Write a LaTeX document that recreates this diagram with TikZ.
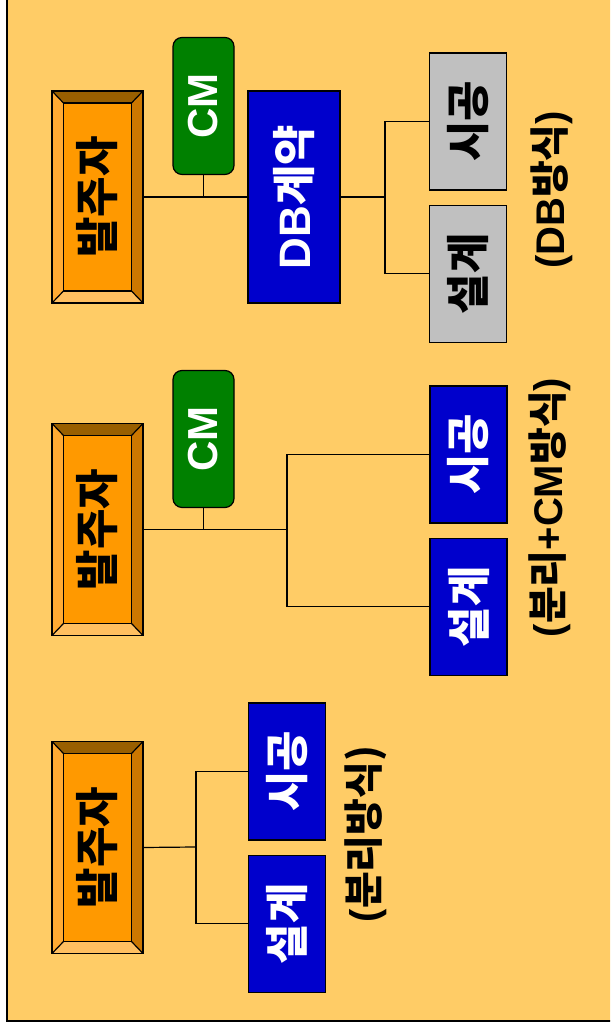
\documentclass[tikz,border=0pt]{standalone}
\usepackage{graphicx}
\usepackage{fontspec}
\setmainfont{Liberation Sans}
\newfontfamily\kr{Noto Sans CJK KR}
\usetikzlibrary{positioning}
\definecolor{bgsand}{HTML}{FFCC66}
\definecolor{ownfill}{HTML}{FF9900}
\definecolor{bevW}{HTML}{FFAA33}
\definecolor{bevN}{HTML}{995F00}
\definecolor{bevE}{HTML}{CC7700}
\definecolor{bevS}{HTML}{FFBF60}
\definecolor{cmgreen}{HTML}{008000}
\definecolor{partblue}{HTML}{0000CC}
\definecolor{partgray}{HTML}{C0C0C0}
\tikzset{
  %% owner boxes (bevelled)
  ownerbox/.style={
    rectangle, draw=black, line width=1.2pt, fill=ownfill,
    minimum width=91pt, minimum height=212pt, inner sep=0pt,
    font=\fontsize{44}{48}\selectfont\bfseries,
    path picture={
      \fill[bevN] (path picture bounding box.north west) -- (path picture bounding box.north east)
        -- ([xshift=-11.5pt,yshift=-12pt]path picture bounding box.north east)
        -- ([xshift=11.5pt,yshift=-12pt]path picture bounding box.north west) -- cycle;
      \fill[bevS] (path picture bounding box.south west) -- (path picture bounding box.south east)
        -- ([xshift=-11.5pt,yshift=12pt]path picture bounding box.south east)
        -- ([xshift=11.5pt,yshift=12pt]path picture bounding box.south west) -- cycle;
      \fill[bevW] (path picture bounding box.north west) -- (path picture bounding box.south west)
        -- ([xshift=11.5pt,yshift=12pt]path picture bounding box.south west)
        -- ([xshift=11.5pt,yshift=-12pt]path picture bounding box.north west) -- cycle;
      \fill[bevE] (path picture bounding box.north east) -- (path picture bounding box.south east)
        -- ([xshift=-11.5pt,yshift=12pt]path picture bounding box.south east)
        -- ([xshift=-11.5pt,yshift=-12pt]path picture bounding box.north east) -- cycle;
      \draw[line width=1.2pt] ([xshift=11.5pt,yshift=12pt]path picture bounding box.south west)
        rectangle ([xshift=-11.5pt,yshift=-12pt]path picture bounding box.north east);
      \draw[line width=1.2pt] (path picture bounding box.north west) -- ++(11.5pt,-12pt)
        (path picture bounding box.north east) -- ++(-11.5pt,-12pt)
        (path picture bounding box.south west) -- ++(11.5pt,12pt)
        (path picture bounding box.south east) -- ++(-11.5pt,12pt);
    }},
  %% CM boxes
  cmbox/.style={
    rectangle, rounded corners=9pt, draw=black, line width=1.2pt,
    fill=cmgreen, text=white, inner sep=0pt,
    minimum width=61pt, minimum height=137pt,
    font=\fontsize{42}{46}\selectfont\bfseries},
  %% design / construction boxes
  partbox/.style={
    rectangle, draw=black, line width=1.2pt, fill=partblue, text=white,
    minimum width=77pt, minimum height=137pt, inner sep=0pt,
    font=\fontsize{44}{48}\selectfont\bfseries},
  graybox/.style={partbox, fill=partgray, text=black},
  dbbox/.style={partbox, minimum width=92pt, minimum height=212pt},
  %% method captions
  typelabel/.style={inner sep=0pt, font=\fontsize{40}{44}\selectfont\bfseries},
  link/.style={line width=1.2pt, black},
}
\begin{document}
\begin{tikzpicture}[x=1pt, y=1pt]
  \useasboundingbox (0,0) rectangle (610,1027);
  \begin{scope}
    \clip (0,0) rectangle (610,1027);
    \fill[white] (0,0) rectangle (610,1027);
    \draw[line width=2pt, fill=bgsand] (6.5,6) rectangle (630,1040);
  \end{scope}

  %% separate design / construction
  \node[ownerbox] (own1) at (97.5,179.5) {\rotatebox{90}{\kr 발주자}};
  \node[partbox] (con1) at (287,255.5) {\rotatebox{90}{\kr 시공}};
  \node[partbox, below=14pt of con1] (des1) {\rotatebox{90}{\kr 설계}};
  \node[typelabel] (lab1) at (366,193) {\rotatebox{90}{(\kr 분리방식)}};
  \coordinate (j1) at (196,180);
  \draw[link] (own1.east) -- (j1);
  \draw[link] (con1.west) -| (j1) |- (des1.west);

  %% separate + CM
  \node[ownerbox] (own2) at (97.5,497.5) {\rotatebox{90}{\kr 발주자}};
  \node[cmbox] (cm2) at (203.5,588) {\rotatebox{90}{CM}};
  \node[partbox] (con2) at (468.5,572.5) {\rotatebox{90}{\kr 시공}};
  \node[partbox, below=14pt of con2] (des2) {\rotatebox{90}{\kr 설계}};
  \node[typelabel] (lab2) at (550,519.5) {\rotatebox{90}{({\kr 분리}+CM{\kr 방식})}};
  \coordinate (j2) at (287,497.5);
  \draw[link] (own2.east) -- (j2);
  \draw[link] (cm2.south) -- (cm2.south |- own2.east);
  \draw[link] (con2.west) -| (j2) |- (des2.west);

  %% design-build
  \node[ownerbox] (own3) at (97.5,830) {\rotatebox{90}{\kr 발주자}};
  \node[cmbox] (cm3) at (203.5,921) {\rotatebox{90}{CM}};
  \node[dbbox] (db3) at (294,830) {\rotatebox{90}{DB{\kr 계약}}};
  \node[graybox] (con3) at (468,905.5) {\rotatebox{90}{\kr 시공}};
  \node[graybox, below=14pt of con3] (des3) {\rotatebox{90}{\kr 설계}};
  \node[typelabel] (lab3) at (552,837) {\rotatebox{90}{(DB{\kr 방식})}};
  \coordinate (j3) at (385,830);
  \draw[link] (own3.east) -- (db3.west);
  \draw[link] (cm3.south) -- (cm3.south |- own3.east);
  \draw[link] (db3.east) -- (j3);
  \draw[link] (con3.west) -| (j3) |- (des3.west);
\end{tikzpicture}
\end{document}
